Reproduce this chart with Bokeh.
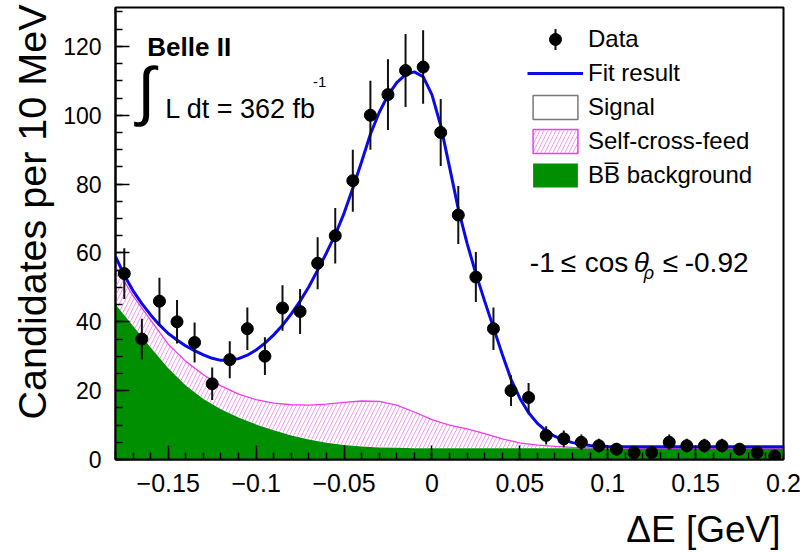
import numpy as np
from bokeh.plotting import figure
from bokeh.models import (Range1d, FixedTicker, Legend, LegendItem, Label,
                          ColumnDataSource, Arrow)
from bokeh.embed import file_html
from bokeh.resources import INLINE

# ---------------- data ----------------
bin_centers = [-0.175, -0.165, -0.155, -0.145, -0.135, -0.125, -0.115, -0.105,
               -0.095, -0.085, -0.075, -0.065, -0.055, -0.045, -0.035, -0.025,
               -0.015, -0.005, 0.005, 0.015, 0.025, 0.035, 0.045, 0.055,
               0.065, 0.075, 0.085, 0.095, 0.105, 0.115, 0.125, 0.135,
               0.145, 0.155, 0.165, 0.175, 0.185, 0.195]
counts = [54, 35, 46, 40, 34, 22, 29, 38, 30, 44, 43, 57, 65, 81, 100, 106,
          113, 114, 95, 71, 53, 38, 20, 18, 7, 6, 5, 4, 3, 2, 2, 5,
          4, 4, 4, 3, 2, 1]

fit_x = [-0.180, -0.175, -0.170, -0.165, -0.160, -0.155, -0.150, -0.145,
         -0.140, -0.135, -0.130, -0.125, -0.120, -0.115, -0.110, -0.105,
         -0.100, -0.095, -0.090, -0.085, -0.080, -0.075, -0.070, -0.065,
         -0.060, -0.055, -0.050, -0.045, -0.040, -0.035, -0.030, -0.025,
         -0.020, -0.015, -0.010, -0.005, 0.000, 0.005, 0.010, 0.015,
         0.020, 0.025, 0.030, 0.035, 0.040, 0.045, 0.050, 0.055,
         0.060, 0.065, 0.070, 0.075, 0.080, 0.085, 0.090, 0.095,
         0.100, 0.120, 0.140, 0.160, 0.180, 0.200]
fit_y = [59.0, 53.5, 49.0, 45.3, 42.0, 39.1, 36.6, 34.7,
         33.0, 31.6, 30.4, 29.4, 28.8, 28.8, 29.3, 30.3,
         31.8, 33.8, 36.2, 39.0, 42.3, 46.0, 50.2, 55.0,
         60.0, 65.3, 71.5, 78.8, 86.5, 94.5, 100.8, 105.8,
         109.5, 111.8, 112.6, 111.2, 106.0, 97.0, 85.0, 72.8,
         62.8, 54.0, 46.0, 38.3, 30.6, 23.3, 17.8, 13.6,
         10.5, 8.3, 6.7, 5.6, 4.9, 4.4, 4.1, 3.9,
         3.8, 3.7, 3.7, 3.7, 3.7, 3.7]

bkg_x = [-0.18, -0.17, -0.16, -0.15, -0.14, -0.13, -0.12, -0.11, -0.10,
         -0.09, -0.08, -0.07, -0.06, -0.05, -0.04, -0.03, -0.02, -0.01,
         0.00, 0.01, 0.02, 0.03, 0.04, 0.05, 0.06, 0.07, 0.08, 0.09,
         0.10, 0.11, 0.12, 0.13, 0.14, 0.15, 0.16, 0.17, 0.18, 0.19, 0.20]
bb_y = [45.0, 38.8, 32.5, 26.5, 21.5, 17.6, 14.6, 12.2, 10.2,
        8.5, 7.0, 5.8, 4.9, 4.2, 3.8, 3.5, 3.4, 3.3,
        3.3, 3.3, 3.3, 3.3, 3.3, 3.3, 3.3, 3.3, 3.3, 3.3,
        3.3, 3.3, 3.3, 3.3, 3.3, 3.3, 3.3, 3.3, 3.3, 3.3, 3.3]
scf_top_y = [56.0, 47.5, 40.5, 33.5, 28.5, 24.6, 21.4, 19.0, 17.4,
             16.4, 15.9, 15.8, 16.1, 16.6, 17.0, 16.9, 15.8, 13.8,
             11.6, 10.0, 8.9, 7.5, 6.0, 4.8, 4.2, 3.8, 3.55, 3.4,
             3.35, 3.3, 3.3, 3.3, 3.3, 3.3, 3.3, 3.3, 3.3, 3.3, 3.3]

x_major = [-0.15, -0.1, -0.05, 0.0, 0.05, 0.1, 0.15, 0.2]
x_major_labels = ["\u22120.15", "\u22120.1", "\u22120.05", "0", "0.05", "0.1", "0.15", "0.2"]
y_major = [0, 20, 40, 60, 80, 100, 120]
y_major_labels = ["0", "20", "40", "60", "80", "100", "120"]

# ---------------- style / layout ----------------
FONT = "Liberation Sans"
GREEN = "#008f00"
MAGENTA = "#ee3cee"
HATCH = "#f292f2"
BLUE = "#0a0ae6"

W, H = 802, 552
BL, BR, BT, BB = 115, 19, 7, 93
FW, FH = W - BL - BR, H - BT - BB
X0, X1, Y0, Y1 = -0.18, 0.2, 0.0, 131.3


def sx2x(sx):
    """frame pixel offset (from left) -> x data"""
    return X0 + sx / FW * (X1 - X0)


def sy2y(sy):
    """frame pixel offset (from bottom) -> y data"""
    return Y0 + sy / FH * (Y1 - Y0)


p = figure(width=W, height=H, output_backend="svg", toolbar_location=None,
           x_range=Range1d(X0, X1), y_range=Range1d(Y0, Y1),
           min_border_left=BL, min_border_right=BR, min_border_top=BT,
           min_border_bottom=BB)
p.xgrid.visible = False
p.ygrid.visible = False
p.outline_line_color = "black"
p.outline_line_width = 2
p.background_fill_color = "white"
p.border_fill_color = "white"

src_bg = ColumnDataSource(dict(x=bkg_x, bb=bb_y, scf=scf_top_y, zero=[0] * len(bkg_x)))
bb_r = p.varea(x="x", y1="zero", y2="bb", source=src_bg, fill_color=GREEN)
p.varea(x="x", y1="bb", y2="scf", source=src_bg, fill_alpha=0,
        hatch_pattern="/", hatch_color=HATCH, hatch_scale=8, hatch_weight=0.9)
p.line(x="x", y="scf", source=src_bg, line_color=MAGENTA, line_width=1.3)

fit_r = p.line(fit_x, fit_y, line_color=BLUE, line_width=3)

cnt = np.array(counts, dtype=float)
err = np.sqrt(cnt)
src_d = ColumnDataSource(dict(x=bin_centers, y=counts, lo=cnt - err, hi=cnt + err))
p.segment(x0="x", y0="lo", x1="x", y1="hi", source=src_d, line_color="#111111", line_width=2)
pts = p.scatter(x="x", y="y", source=src_d, size=12, fill_color="black", line_color="black")

# legend proxies (NaN data -> nothing drawn in the frame)
sig_proxy = p.patch([np.nan], [np.nan], fill_color="white", line_color="#7a7a7a", line_width=1.5)
scf_proxy = p.patch([np.nan], [np.nan], fill_color="white", line_color=MAGENTA, line_width=1.5,
                    hatch_pattern="/", hatch_color=HATCH, hatch_scale=8, hatch_weight=0.9)

LEG_X, LEG_Y = 412, 269
GW, GH, SP = 56, 30, 4
legend = Legend(items=[
    LegendItem(label="Data", renderers=[pts]),
    LegendItem(label="Fit result", renderers=[fit_r]),
    LegendItem(label="Signal", renderers=[sig_proxy]),
    LegendItem(label="Self-cross-feed", renderers=[scf_proxy]),
    LegendItem(label="BB\u0305 background", renderers=[bb_r]),
], location=(LEG_X, LEG_Y), glyph_width=GW, glyph_height=GH, label_height=GH,
    spacing=SP, padding=0, margin=0, label_standoff=5,
    border_line_color=None, background_fill_alpha=0,
    label_text_font=FONT, label_text_font_size="24px", label_text_color="black")
p.add_layout(legend)

# vertical error-bar symbol of the "Data" legend entry
leg_top = LEG_Y + 5 * GH + 4 * SP
row_c = leg_top - GH / 2
p.add_layout(Arrow(end=None, x_start=sx2x(LEG_X + GW / 2), x_end=sx2x(LEG_X + GW / 2),
                   y_start=sy2y(row_c - 10.5), y_end=sy2y(row_c + 10.5),
                   line_color="#111111", line_width=2))

# axes
x_minor = [round(-0.18 + 0.01 * i, 2) for i in range(39)]
y_minor = [5 * i for i in range(27)]
p.xaxis.ticker = FixedTicker(ticks=x_major, minor_ticks=x_minor)
p.xaxis.major_label_overrides = dict(zip(x_major, x_major_labels))
p.yaxis.ticker = FixedTicker(ticks=y_major, minor_ticks=y_minor)
p.yaxis.major_label_overrides = dict(zip(y_major, y_major_labels))
for ax in (p.xaxis, p.yaxis):
    ax.major_tick_in = 14
    ax.major_tick_out = 0
    ax.minor_tick_in = 7
    ax.minor_tick_out = 0
    ax.axis_line_width = 2
    ax.axis_line_color = "black"
    ax.major_tick_line_width = 1.5
    ax.minor_tick_line_width = 1.5
    ax.major_tick_line_color = "black"
    ax.minor_tick_line_color = "black"
    ax.major_label_text_font = FONT
    ax.major_label_text_color = "black"
p.xaxis.major_label_text_font_size = "25px"
p.yaxis.major_label_text_font_size = "23px"
p.xaxis.major_label_standoff = 14
p.yaxis.major_label_standoff = 14


# text annotations
def mk(x, y, text, size, style="normal", align="left", angle=0.0):
    return Label(x=x, y=y, text=text, text_font=FONT, text_font_size=size,
                 text_font_style=style, text_baseline="alphabetic",
                 text_align=align, angle=angle, text_color="black")


def lab(*args, **kw):
    p.add_layout(mk(*args, **kw))


# axis titles (end-aligned like ROOT), placed in the side panels (not clipped)
p.add_layout(mk(sx2x(780 - BL), sy2y(FH + BT - 529), "\u0394E [GeV]", "37px",
                align="right"), "below")
p.add_layout(mk(sx2x(31 - BL), sy2y(FH + BT - 4), "Candidates per 10 MeV", "39.5px",
                align="right", angle=np.pi / 2), "left")

lab(-0.1619, 119.7, "Belle II", "26px", "bold")
lab(-0.1676, 107.2, "\u222b", "65px")
lab(-0.1517, 101.9, "L dt = 362 fb", "27px")
lab(-0.0676, 109.8, "-1", "15px")
lab(0.0557, 57.3, "-1", "28px")
lab(0.0733, 57.3, "\u2264", "28px")
lab(0.0869, 57.3, "cos", "28px")
lab(0.1148, 57.3, "\u03b8", "28px", "italic")
lab(0.1205, 54.3, "\u03c1", "18px", "italic")
lab(0.1313, 57.3, "\u2264", "28px")
lab(0.1438, 57.3, "-0.92", "28px")

open("out.html", "w").write(file_html(p, INLINE))
